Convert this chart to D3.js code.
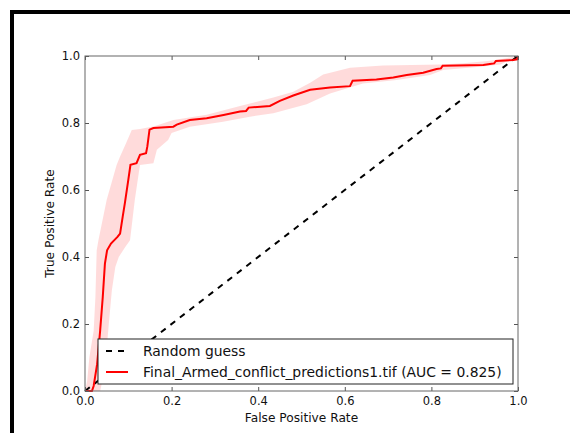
<!DOCTYPE html>
<html lang="en">
<head>
<meta charset="UTF-8">
<title>ROC curve</title>
<script src="https://cdn.jsdelivr.net/npm/d3@7"></script>
<style>
  body { margin: 0; background: #fff; }
  svg text { font-family: "DejaVu Sans", sans-serif; fill: #111; }
</style>
</head>
<body>
<svg id="chart" width="570" height="433"></svg>
<script>
// mean ROC curve
const fpr = [0, 0.016, 0.020, 0.028, 0.035, 0.041, 0.046, 0.051, 0.060, 0.075, 0.081, 0.087, 0.092,
  0.100, 0.105, 0.119, 0.127, 0.141, 0.144, 0.149, 0.158, 0.204, 0.212, 0.242, 0.281, 0.320, 0.358,
  0.372, 0.378, 0.427, 0.450, 0.481, 0.520, 0.566, 0.612, 0.618, 0.673, 0.712, 0.743, 0.781, 0.812,
  0.822, 0.826, 0.920, 0.935, 0.945, 0.949, 0.989, 0.998, 1.0];
const tpr = [0, 0, 0.015, 0.08, 0.18, 0.28, 0.38, 0.42, 0.44, 0.46, 0.47, 0.52, 0.56,
  0.63, 0.675, 0.68, 0.705, 0.71, 0.73, 0.78, 0.785, 0.789, 0.795, 0.809, 0.814, 0.824, 0.834,
  0.836, 0.846, 0.851, 0.866, 0.882, 0.899, 0.906, 0.910, 0.926, 0.930, 0.936, 0.943, 0.950, 0.961,
  0.963, 0.971, 0.973, 0.976, 0.978, 0.985, 0.988, 0.990, 1.0];

// upper / lower edge of the shaded band
const upperFpr = [0, 0.005, 0.010, 0.020, 0.024, 0.027, 0.031, 0.050, 0.073, 0.081, 0.095, 0.108,
  0.127, 0.160, 0.204, 0.281, 0.358, 0.435, 0.481, 0.520, 0.550, 0.612, 0.688, 0.820, 0.873, 0.930, 0.960, 1.0];
const upperTpr = [0, 0.03, 0.10, 0.18, 0.28, 0.42, 0.45, 0.57, 0.675, 0.70, 0.74, 0.779,
  0.782, 0.790, 0.809, 0.825, 0.851, 0.876, 0.893, 0.92, 0.945, 0.965, 0.972, 0.975, 0.978, 0.985, 0.99, 1.0];
const lowerFpr = [0, 0.035, 0.040, 0.047, 0.055, 0.062, 0.070, 0.078, 0.093, 0.104, 0.115, 0.123,
  0.127, 0.158, 0.166, 0.192, 0.200, 0.242, 0.319, 0.381, 0.435, 0.512, 0.566, 0.642, 0.720, 0.797,
  0.827, 0.912, 0.960, 1.0];
const lowerTpr = [0, 0, 0.03, 0.08, 0.20, 0.30, 0.37, 0.40, 0.43, 0.45, 0.57, 0.64,
  0.675, 0.68, 0.72, 0.749, 0.77, 0.789, 0.804, 0.819, 0.829, 0.856, 0.888, 0.918, 0.928, 0.943,
  0.958, 0.968, 0.975, 1.0];

const diagonal = [0, 1];
const ticks = [0, 0.2, 0.4, 0.6, 0.8, 1.0];
const legendLabels = ["Random guess", "Final_Armed_conflict_predictions1.tif (AUC = 0.825)"];
const xTitle = "False Positive Rate";
const yTitle = "True Positive Rate";

const svg = d3.select("#chart");
const plotLeft = 85, plotRight = 518, plotTop = 56, plotBottom = 391;

const x = d3.scaleLinear().domain([0, 1]).range([plotLeft, plotRight]);
const y = d3.scaleLinear().domain([0, 1]).range([plotBottom, plotTop]);

// black frame of the figure (only top and left visible)
svg.append("path")
  .attr("d", "M12,433 V12 H570")
  .attr("fill", "none")
  .attr("stroke", "#000")
  .attr("stroke-width", 4);

const line = d3.line().x(d => x(d[0])).y(d => y(d[1]));

// shaded band
const bandPts = d3.zip(upperFpr, upperTpr).concat(d3.zip(lowerFpr, lowerTpr).reverse());
svg.append("path")
  .attr("d", line(bandPts) + "Z")
  .attr("fill", "#ff0000")
  .attr("fill-opacity", 0.14)
  .attr("stroke", "none");

// random guess diagonal
svg.append("path")
  .attr("d", line(d3.zip(diagonal, diagonal)))
  .attr("fill", "none")
  .attr("stroke", "#000")
  .attr("stroke-width", 2)
  .attr("stroke-dasharray", "6,6");

// ROC curve
svg.append("path")
  .attr("d", line(d3.zip(fpr, tpr)))
  .attr("fill", "none")
  .attr("stroke", "#ff0000")
  .attr("stroke-width", 2)
  .attr("stroke-linejoin", "miter");

// axes, ticks pointing inward on all sides
function styleAxis(g) {
  g.select(".domain").remove();
  g.selectAll(".tick line").attr("stroke", "#555");
  g.selectAll("text").attr("font-size", 11.5).attr("fill", "#222")
    .attr("font-family", "DejaVu Sans, sans-serif");
}
const fmt = d3.format(".1f");
svg.append("g").attr("transform", `translate(0,${plotBottom})`)
  .call(d3.axisBottom(x).tickValues(ticks).tickFormat(fmt).tickSize(-4).tickPadding(6)).call(styleAxis);
svg.append("g").attr("transform", `translate(${plotLeft},0)`)
  .call(d3.axisLeft(y).tickValues(ticks).tickFormat(fmt).tickSize(-4).tickPadding(5)).call(styleAxis);
svg.append("g").attr("transform", `translate(0,${plotTop})`)
  .call(d3.axisTop(x).tickValues(ticks).tickFormat("").tickSize(-4)).call(styleAxis);
svg.append("g").attr("transform", `translate(${plotRight},0)`)
  .call(d3.axisRight(y).tickValues(ticks).tickFormat("").tickSize(-4)).call(styleAxis);

svg.append("rect")
  .attr("x", plotLeft).attr("y", plotTop)
  .attr("width", plotRight - plotLeft).attr("height", plotBottom - plotTop)
  .attr("fill", "none").attr("stroke", "#666").attr("stroke-width", 1);

// axis titles
svg.append("text")
  .attr("x", (plotLeft + plotRight) / 2).attr("y", 422)
  .attr("text-anchor", "middle").attr("font-size", 12.2)
  .text(xTitle);
svg.append("text")
  .attr("transform", `translate(54,${(plotTop + plotBottom) / 2}) rotate(-90)`)
  .attr("text-anchor", "middle").attr("font-size", 12.2)
  .text(yTitle);

// legend
const legend = svg.append("g").attr("transform", "translate(98,339)");
legend.append("rect")
  .attr("width", 415).attr("height", 45)
  .attr("fill", "#fff").attr("stroke", "#222").attr("stroke-width", 1);
const styles = [{stroke: "#000", dash: "6,6"}, {stroke: "#ff0000", dash: null}];
legendLabels.forEach((label, i) => {
  const yy = 12 + i * 21;
  legend.append("line")
    .attr("x1", 8).attr("x2", 30).attr("y1", yy).attr("y2", yy)
    .attr("stroke", styles[i].stroke).attr("stroke-width", 2)
    .attr("stroke-dasharray", styles[i].dash);
  legend.append("text")
    .attr("x", 45).attr("y", yy + 5)
    .attr("font-size", 13.9)
    .text(label);
});
</script>
</body>
</html>
